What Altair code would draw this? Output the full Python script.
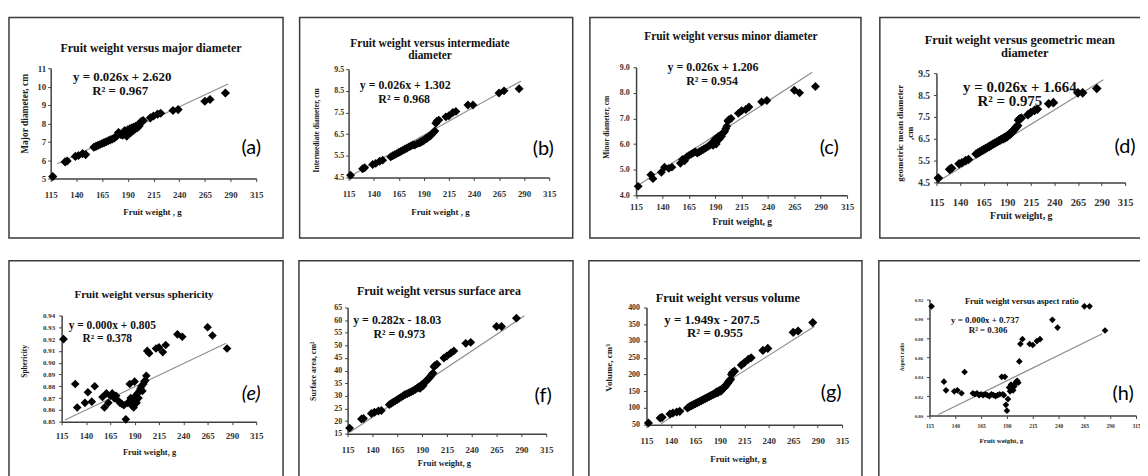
import altair as alt
import pandas as pd

# ---------------- data ----------------
WEIGHT = [117, 129, 131, 139, 142, 146, 149, 157, 159, 161,
          163, 165, 167, 169, 171, 173, 175, 177, 179, 181,
          183, 185, 186, 187, 188, 189, 190, 191, 192, 193,
          194, 195, 196, 197, 198, 199, 200, 201, 202, 203,
          205, 212, 215, 219, 222, 234, 239, 265, 270, 285]

MAJOR_DIAMETER = [5.10, 5.90, 5.95, 6.20, 6.25, 6.35, 6.30, 6.70, 6.75, 6.80,
                  6.85, 6.90, 6.95, 7.00, 7.05, 7.10, 7.15, 7.20, 7.30, 7.50,
                  7.40, 7.35, 7.45, 7.60, 7.40, 7.30, 7.65, 7.55, 7.70, 7.50,
                  7.75, 7.60, 7.80, 7.70, 7.85, 7.75, 7.90, 7.85, 8.00, 8.10,
                  8.15, 8.30, 8.40, 8.50, 8.55, 8.70, 8.75, 9.20, 9.30, 9.65]

INTERMEDIATE_DIAMETER = [4.60, 4.90, 4.95, 5.10, 5.15, 5.25, 5.30, 5.45, 5.50, 5.55,
                         5.60, 5.65, 5.70, 5.75, 5.80, 5.85, 5.90, 5.95, 6.00, 6.00,
                         6.05, 6.10, 6.10, 6.15, 6.15, 6.20, 6.20, 6.25, 6.30, 6.30,
                         6.35, 6.40, 6.40, 6.45, 6.50, 6.55, 6.60, 6.65, 7.00, 7.10,
                         7.15, 7.30, 7.35, 7.50, 7.55, 7.85, 7.85, 8.40, 8.50, 8.60]

MINOR_DIAMETER = [4.35, 4.80, 4.65, 4.90, 5.10, 5.05, 5.10, 5.25, 5.40, 5.35,
                  5.50, 5.55, 5.60, 5.65, 5.70, 5.65, 5.70, 5.75, 5.80, 5.85,
                  5.90, 5.95, 6.00, 6.05, 5.95, 6.10, 6.20, 6.00, 6.25, 6.30,
                  6.20, 6.35, 6.30, 6.40, 6.45, 6.50, 6.60, 6.70, 6.90, 6.95,
                  7.00, 7.20, 7.30, 7.35, 7.45, 7.65, 7.70, 8.10, 8.00, 8.25]

GEOMETRIC_MEAN_DIAMETER = [4.70, 5.10, 5.15, 5.35, 5.40, 5.50, 5.55, 5.80, 5.85, 5.90,
                           5.95, 6.00, 6.05, 6.10, 6.15, 6.20, 6.25, 6.30, 6.35, 6.40,
                           6.45, 6.50, 6.50, 6.55, 6.55, 6.60, 6.60, 6.65, 6.70, 6.70,
                           6.75, 6.80, 6.85, 6.90, 6.95, 7.00, 7.05, 7.10, 7.35, 7.40,
                           7.45, 7.60, 7.70, 7.80, 7.85, 8.10, 8.15, 8.60, 8.60, 8.80]

SPHERICITY = [0.920, 0.882, 0.862, 0.866, 0.875, 0.867, 0.880, 0.871, 0.862, 0.874,
              0.866, 0.872, 0.874, 0.870, 0.872, 0.868, 0.866, 0.865, 0.864, 0.852,
              0.866, 0.882, 0.870, 0.864, 0.868, 0.862, 0.884, 0.872, 0.866, 0.874,
              0.870, 0.876, 0.878, 0.880, 0.876, 0.882, 0.884, 0.885, 0.889, 0.910,
              0.908, 0.912, 0.913, 0.909, 0.915, 0.924, 0.922, 0.930, 0.923, 0.912]

SURFACE_AREA = [17.2, 20.8, 21.0, 23.0, 23.5, 24.0, 24.2, 26.5, 27.0, 27.5,
                28.0, 28.5, 29.0, 29.5, 30.0, 30.5, 30.8, 31.2, 31.6, 32.0,
                32.5, 33.0, 33.3, 33.6, 33.0, 34.0, 34.5, 34.0, 35.0, 35.5,
                35.8, 36.2, 36.6, 37.0, 37.5, 38.0, 38.5, 39.0, 41.5, 42.0,
                42.5, 45.0, 45.8, 47.0, 47.8, 50.8, 51.2, 57.5, 57.5, 60.8]

VOLUME = [55, 70, 72, 82, 85, 88, 90, 100, 104, 107,
          110, 113, 116, 119, 122, 125, 128, 131, 134, 137,
          140, 143, 145, 148, 146, 150, 152, 150, 155, 158,
          160, 163, 166, 170, 174, 178, 182, 186, 200, 206,
          210, 228, 235, 245, 250, 272, 278, 326, 330, 355]

ASPECT_RATIO = [0.913, 0.835, 0.826, 0.825, 0.826, 0.823, 0.845, 0.823, 0.822, 0.823,
                0.821, 0.822, 0.821, 0.822, 0.821, 0.820, 0.822, 0.821, 0.820, 0.821,
                0.822, 0.840, 0.822, 0.821, 0.840, 0.811, 0.805, 0.817, 0.829, 0.825,
                0.832, 0.828, 0.826, 0.830, 0.833, 0.835, 0.836, 0.834, 0.856, 0.874,
                0.879, 0.874, 0.873, 0.877, 0.879, 0.899, 0.891, 0.913, 0.913, 0.888]

# trend line end points (weight, value) as drawn
TREND_A_X, TREND_A_Y = [121.5, 287.6], [5.80, 10.14]
TREND_B_X, TREND_B_Y = [120.0, 287.0], [4.65, 8.96]
TREND_C_X, TREND_C_Y = [117.0, 282.0], [4.39, 8.80]
TREND_D_X, TREND_D_Y = [117.0, 292.0], [4.55, 9.20]
TREND_E_X, TREND_E_Y = [118.4, 284.0], [0.8514, 0.9165]
TREND_F_X, TREND_F_Y = [117.7, 293.0], [15.66, 61.7]
TREND_G_X, TREND_G_Y = [129.7, 286.7], [53.0, 343.5]
TREND_H_X, TREND_H_Y = [123.7, 282.3], [0.801, 0.8847]

X_TICKS = [115, 140, 165, 190, 215, 240, 265, 290, 315]
Y_TICKS_A = [5, 6, 7, 8, 9, 10, 11]
Y_TICKS_B = [4.5, 5.5, 6.5, 7.5, 8.5, 9.5]
Y_TICKS_C = [4, 5, 6, 7, 8, 9]
Y_TICKS_D = [4.5, 5.5, 6.5, 7.5, 8.5, 9.5]
Y_TICKS_E = [0.85, 0.86, 0.87, 0.88, 0.89, 0.90, 0.91, 0.92, 0.93, 0.94]
Y_TICKS_F = [15, 20, 25, 30, 35, 40, 45, 50, 55, 60, 65]
Y_TICKS_G = [50, 100, 150, 200, 250, 300, 350, 400]
Y_TICKS_H = [0.80, 0.82, 0.84, 0.86, 0.88, 0.90, 0.92]

SERIF = "Liberation Serif"
SANS = "Lato"
ONE = alt.InlineData(values=[{"k": 0}])

VIEW_W, VIEW_H = 1140, 468   # whole page area (page origin at 8, 8)
M = 8

# layout in page pixels: plot area (left, right, top, bottom), outer box, texts
PANELS = [
    dict(vals=MAJOR_DIAMETER, tx=TREND_A_X, ty=TREND_A_Y, plot=(51, 258, 67, 178),
         ydom=[5, 11], yticks=Y_TICKS_A, yfmt="d", box=(9, 285, 16, 238),
         titles=[("Fruit weight versus major diameter", 152, 47)], tsize=12,
         eqs=[("y = 0.026x + 2.620", 123, 76), ("R² = 0.967", 121, 90)], esize=13,
         letter=("(a)", 253, 147, "normal"),
         xt=("Fruit weight , g", 153, 211, 9), yt=("Major diameter, cm", 25, 112.5, 9.5),
         xl=(9, 16), yl=(9, 5), ms=85),
    dict(vals=INTERMEDIATE_DIAMETER, tx=TREND_B_X, ty=TREND_B_Y, plot=(351, 553, 68, 177),
         ydom=[4.5, 9.5], yticks=Y_TICKS_B, yfmt=".1f", box=(301.7, 576.7, 16, 238),
         titles=[("Fruit weight versus intermediate", 433, 43), ("diameter", 433, 55)], tsize=11.5,
         eqs=[("y = 0.026x + 1.302", 408, 84), ("R² = 0.968", 407, 98)], esize=12,
         letter=("(b)", 547, 148, "normal"),
         xt=("Fruit weight , g", 443, 211, 9), yt=("Intermediate diameter, cm", 318.3, 129, 7.5),
         xl=(9, 15.7), yl=(8, 5), ms=80),
    dict(vals=MINOR_DIAMETER, tx=TREND_C_X, ty=TREND_C_Y, plot=(640.5, 853, 66, 195),
         ydom=[4, 9], yticks=Y_TICKS_C, yfmt=".1f", box=(594, 867, 16, 238),
         titles=[("Fruit weight versus minor diameter", 736, 36)], tsize=11.5,
         eqs=[("y = 0.026x + 1.206", 718, 66), ("R² = 0.954", 717, 80)], esize=12,
         letter=("(c)", 835, 147, "normal"),
         xt=("Fruit weight, g", 747, 221, 9.5), yt=("Minor diameter, cm", 611, 126, 7.5),
         xl=(9, 11.7), yl=(8, 7), ms=80),
    dict(vals=GEOMETRIC_MEAN_DIAMETER, tx=TREND_D_X, ty=TREND_D_Y, plot=(943, 1133, 72, 182),
         ydom=[4.5, 9.5], yticks=Y_TICKS_D, yfmt=".1f", box=(886, 1170, 16, 238),
         titles=[("Fruit weight versus geometric mean", 1027, 39), ("diameter", 1032, 52)], tsize=12.5,
         eqs=[("y = 0.026x + 1.664", 1027, 86), ("R² = 0.975", 1017, 100)], esize=15,
         letter=("(d)", 1133, 146, "normal"),
         xt=("Fruit weight, g", 1028, 215, 10), yt=(["geometric mean diameter", ",cm"], 905.7, 132, 9),
         xl=(10.5, 20), yl=(9.5, 7), ms=95),
    dict(vals=SPHERICITY, tx=TREND_E_X, ty=TREND_E_Y, plot=(62, 258, 316, 423),
         ydom=[0.85, 0.94], yticks=Y_TICKS_E, yfmt=".2f", box=(9, 285, 261, 520),
         titles=[("Fruit weight versus sphericity", 145, 295)], tsize=11,
         eqs=[("y = 0.000x + 0.805", 113, 327), ("R² = 0.378", 108, 340)], esize=11.5,
         letter=("(e)", 253, 395, "italic"),
         xt=("Fruit weight, g", 150, 453, 8.5), yt=("Sphericity", 25, 361.7, 7.5),
         xl=(9, 14), yl=(7, 7), ms=75),
    dict(vals=SURFACE_AREA, tx=TREND_F_X, ty=TREND_F_Y, plot=(350, 550, 308, 435),
         ydom=[15, 65], yticks=Y_TICKS_F, yfmt="d", box=(301, 577, 261, 520),
         titles=[("Fruit weight versus surface area", 442, 291)], tsize=12,
         eqs=[("y = 0.282x - 18.03", 400, 321), ("R² = 0.973", 402, 335)], esize=12,
         letter=("(f)", 547, 397, "normal"),
         xt=("Fruit weight,  g", 447, 464, 8.5), yt=("Surface area, cm²", 316, 371.7, 8),
         xl=(9, 15.7), yl=(8, 6), ms=80),
    dict(vals=VOLUME, tx=TREND_G_X, ty=TREND_G_Y, plot=(651, 848, 308, 426),
         ydom=[50, 400], yticks=Y_TICKS_G, yfmt="d", box=(593, 868, 261, 520),
         titles=[("Fruit weight versus volume", 733, 298)], tsize=12.5,
         eqs=[("y = 1.949x - 207.5", 717, 321), ("R² = 0.955", 720, 334)], esize=13,
         letter=("(g)", 837, 394, "normal"),
         xt=("Fruit weight, g", 743, 460, 9), yt=("Volume, cm³", 612.3, 368.3, 9),
         xl=(9, 16.3), yl=(8, 7), ms=85),
    dict(vals=ASPECT_RATIO, tx=TREND_H_X, ty=TREND_H_Y, plot=(936, 1144, 300, 416.7),
         ydom=[0.80, 0.92], yticks=Y_TICKS_H, yfmt=".2f", box=(885, 1170, 261, 520),
         titles=[("Fruit weight versus aspect ratio", 1029, 301)], tsize=8.5,
         eqs=[("y = 0.000x + 0.737", 992, 320.5), ("R² = 0.306", 995, 331)], esize=9,
         letter=("(h)", 1131, 395, "normal"),
         xt=("Fruit weight, g", 1008, 442, 7), yt=("Aspect ratio", 908.3, 357.5, 5.5),
         xl=(5.5, 10.6), yl=(5, 6.7), ms=45),
]


def text_layer(txt, x, y, size, font=SERIF, weight="bold", style="normal", color="#111111"):
    return alt.Chart(ONE).mark_text(
        text=txt, font=font, fontSize=size, fontWeight=weight, fontStyle=style,
        align="center", baseline="middle", color=color,
    ).encode(x=alt.value(x - M), y=alt.value(y - M))


def build(p):
    left, right, top, bottom = p["plot"]
    df = pd.DataFrame({"weight": WEIGHT, "value": p["vals"]})
    tr = pd.DataFrame({"weight": p["tx"], "value": p["ty"]})
    xs = alt.Scale(domain=[115, 315], range=[left - M, right - M], nice=False, zero=False)
    ys = alt.Scale(domain=p["ydom"], range=[bottom - M, top - M], nice=False, zero=False)
    xa = alt.Axis(orient="bottom", offset=(bottom - M) - VIEW_H,
                  values=X_TICKS, format="d", grid=False,
                  title=p["xt"][0], titleX=p["xt"][1] - M, titleY=p["xt"][2] - bottom,
                  titleFontSize=p["xt"][3],
                  titleBaseline="middle", titleAlign="center", titleFont=SERIF, titleFontWeight="bold",
                  titleColor="#1a1a1a",
                  labelFont=SERIF, labelFontWeight="bold", labelFontSize=p["xl"][0],
                  labelPadding=p["xl"][1] - 3, labelBaseline="middle", labelFlush=False,
                  labelOverlap=False, labelBound=False, labelColor="#333333",
                  tickSize=3, tickColor="#404040", domainColor="#404040", domainWidth=1.5)
    ya = alt.Axis(orient="left", offset=-(left - M),
                  values=p["yticks"], format=p["yfmt"], grid=False,
                  title=p["yt"][0], titleX=p["yt"][1] - left, titleY=p["yt"][2] - M,
                  titleFontSize=p["yt"][3],
                  titleAngle=270, titleBaseline="middle", titleAlign="center", titleFont=SERIF,
                  titleFontWeight="bold", titleColor="#1a1a1a", titleLineHeight=p["yt"][3] + 1,
                  labelFont=SERIF, labelFontWeight="bold", labelFontSize=p["yl"][0],
                  labelPadding=p["yl"][1] - 3, labelFlush=False, labelOverlap=False,
                  labelBound=False, labelColor="#333333",
                  tickSize=3, tickColor="#404040", domainColor="#404040", domainWidth=1.5)
    b = p["box"]
    box = alt.Chart(ONE).mark_rect(fill="white", fillOpacity=0, stroke="#3a3a3a", strokeWidth=1.5).encode(
        x=alt.value(b[0] - M), x2=alt.value(b[1] - M), y=alt.value(b[2] - M), y2=alt.value(b[3] - M))
    line = alt.Chart(tr).mark_line(color="#8f8f8f", strokeWidth=1.2).encode(
        x=alt.X("weight:Q", scale=xs, axis=xa), y=alt.Y("value:Q", scale=ys, axis=ya))
    pts = alt.Chart(df).mark_point(shape="diamond", filled=True, color="#000000", opacity=1,
                                   size=p["ms"], strokeWidth=0).encode(
        x=alt.X("weight:Q", scale=xs, axis=xa), y=alt.Y("value:Q", scale=ys, axis=ya))
    layers = [box, line, pts]
    for t, x, y in p["titles"]:
        layers.append(text_layer(t, x, y, p["tsize"]))
    for t, x, y in p["eqs"]:
        layers.append(text_layer(t, x, y, p["esize"]))
    lt, lx, ly, lstyle = p["letter"]
    layers.append(text_layer(lt, lx, ly, 20, font=SANS, weight="normal", style=lstyle, color="#000000"))
    return alt.layer(*layers)


chart = alt.layer(*[build(p) for p in PANELS]).resolve_scale(
    x="independent", y="independent"
).properties(
    width=VIEW_W, height=VIEW_H,
    autosize=alt.AutoSizeParams(type="none"),
    padding=0,
    background="white",
).configure_view(strokeWidth=0)

chart.save("out.html", embed_options={"renderer": "svg", "actions": False})
